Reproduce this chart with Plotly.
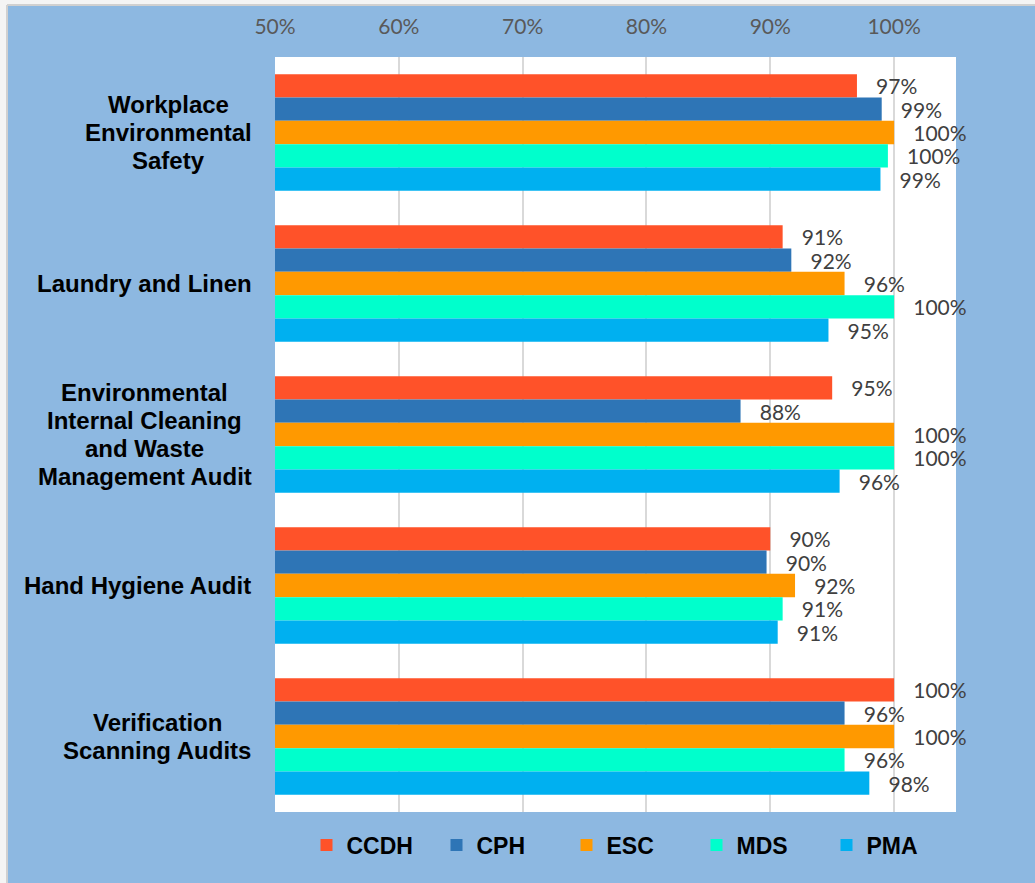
import plotly.graph_objects as go

categories = [
    "Workplace<br>Environmental<br>Safety",
    "Laundry and Linen",
    "Environmental<br>Internal Cleaning<br>and Waste<br>Management Audit",
    "Hand Hygiene Audit",
    "Verification<br>Scanning Audits",
]
series_names = ["CCDH", "CPH", "ESC", "MDS", "PMA"]
ccdh = [97.0, 91.0, 95.0, 90.0, 100.0]
cph = [99.0, 91.7, 87.6, 89.7, 96.0]
esc = [100.0, 96.0, 100.0, 92.0, 100.0]
mds = [99.5, 100.0, 100.0, 91.0, 96.0]
pma = [98.9, 94.7, 95.6, 90.6, 98.0]
tick_vals = [50, 60, 70, 80, 90, 100]
tick_text = ["50%", "60%", "70%", "80%", "90%", "100%"]

series_values = [ccdh, cph, esc, mds, pma]
colors = ["#FF5229", "#2E75B6", "#FF9900", "#00FFCC", "#00B0F0"]

W, H = 1035, 883
L, R, T, B = 275, 79, 57, 71
PW, PH = W - L - R, H - T - B
BG = "#8DB8E1"
LINE_H = 28
CAT_FONT = 24
CAT_RIGHT = 252

# approximate Arial/Helvetica Bold advance widths (em) for block centering
_AW = {
    "W": .944, "E": .667, "S": .667, "L": .611, "I": .278, "C": .722, "M": .833,
    "H": .722, "A": .722, "V": .667, " ": .278,
    "a": .556, "b": .611, "c": .556, "d": .611, "e": .556, "f": .333, "g": .611,
    "h": .611, "i": .278, "k": .556, "l": .278, "m": .889, "n": .611, "o": .611,
    "p": .611, "r": .389, "s": .556, "t": .333, "u": .611, "v": .556, "w": .778,
    "y": .556,
}

def text_w(s):
    return sum(_AW.get(ch, .6) for ch in s) * CAT_FONT

def px_x(p):
    return (p - L) / PW

def px_y(p):
    return (H - B - p) / PH

fig = go.Figure()
for name, vals, col in zip(series_names, series_values, colors):
    fig.add_trace(go.Bar(
        y=categories, x=vals, name=name, orientation="h",
        marker=dict(color=col, line=dict(width=0)),
        texttemplate="\u00a0\u00a0\u00a0%{x:.0f}%", textposition="outside",
        textfont=dict(family="Lato", size=21, color="#404040"),
        constraintext="none", cliponaxis=False,
        hoverinfo="skip",
    ))

annotations = []
for c in categories:
    lines = c.split("<br>")
    n = len(lines)
    block_w = max(text_w(ln) for ln in lines)
    cx = CAT_RIGHT - block_w / 2
    for i, ln in enumerate(lines):
        annotations.append(dict(
            x=px_x(cx), xref="paper", y=c, yref="y", xanchor="center", yanchor="middle",
            yshift=((n - 1) / 2 - i) * LINE_H,
            align="center", showarrow=False, text=ln,
            font=dict(family="Liberation Sans, Arial", size=CAT_FONT, color="#000000", weight="bold"),
        ))

shapes = [
    dict(type="rect", xref="paper", yref="paper", x0=px_x(0), x1=px_x(W), y0=px_y(0), y1=px_y(5),
         fillcolor="#F4F4F4", line=dict(width=0), layer="below"),
    dict(type="rect", xref="paper", yref="paper", x0=px_x(0), x1=px_x(7), y0=px_y(0), y1=px_y(H),
         fillcolor="#F4F4F4", line=dict(width=0), layer="below"),
    dict(type="line", xref="paper", yref="paper", x0=px_x(7), x1=px_x(W), y0=px_y(5), y1=px_y(5),
         line=dict(color="#D0D0D0", width=2)),
    dict(type="line", xref="paper", yref="paper", x0=px_x(7), x1=px_x(7), y0=px_y(5), y1=px_y(H),
         line=dict(color="#D0D0D0", width=2)),
]

fig.update_layout(
    width=W, height=H,
    margin=dict(l=L, r=R, t=T, b=B, pad=0),
    paper_bgcolor=BG, plot_bgcolor="#FFFFFF",
    barmode="group", bargap=0.228, bargroupgap=0,
    showlegend=True,
    legend=dict(
        orientation="h", x=0.5 + 16 / PW, xanchor="center", y=px_y(845), yanchor="middle",
        font=dict(family="Liberation Sans, Arial", size=23, color="#000000", weight="bold"),
        traceorder="normal", bgcolor="rgba(0,0,0,0)", entrywidth=85,
    ),
    annotations=annotations,
    shapes=shapes,
    xaxis=dict(
        range=[50, 105], side="top", tickvals=tick_vals, ticktext=tick_text,
        showgrid=True, gridcolor="#D9D9D9", gridwidth=1.5, zeroline=False,
        showline=False, ticks="", ticklabelstandoff=18,
        tickfont=dict(family="Lato", size=21, color="#595959"),
    ),
    yaxis=dict(
        autorange="reversed", showticklabels=False, ticks="", showgrid=False,
        zeroline=False, showline=False,
    ),
)

fig.write_html("out.html", config={"displayModeBar": False},
               post_script="document.body.style.margin='0';")
